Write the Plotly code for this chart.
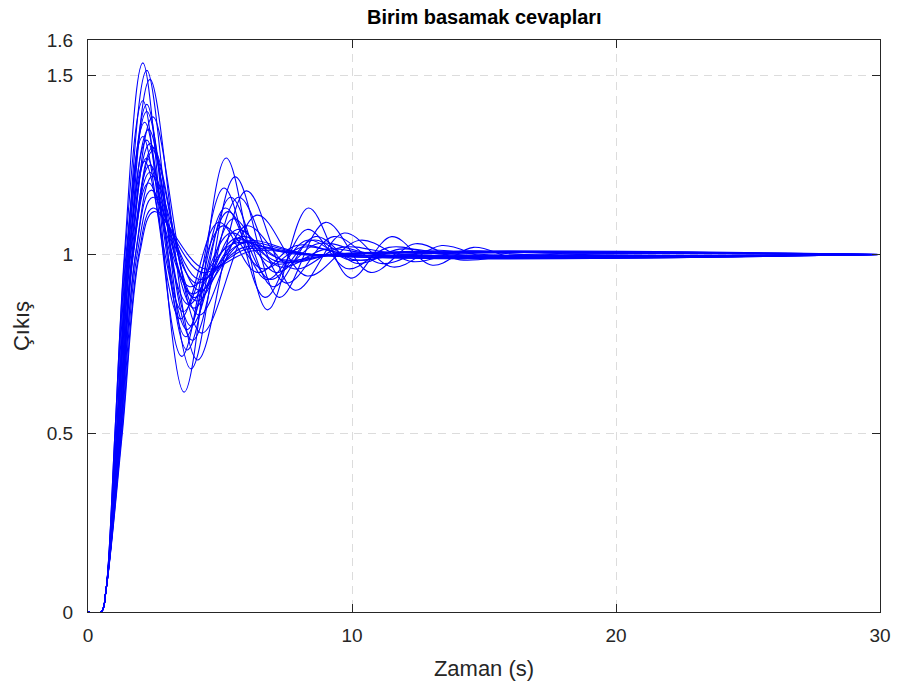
import plotly.graph_objects as go

# ---- Data ----
X_TICKS = [0, 10, 20, 30]
Y_TICKS = [0, 0.5, 1, 1.5, 1.6]
Y_TICK_TEXT = ["0", "0.5", "1", "1.5", "1.6"]

# common dead time and foot of every response
DELAY_T = 0.5
FOOT_T = 0.68
FOOT_Y = 0.06

# time where each response crosses 0.5 and 1.0
T_HALF = [1.02, 1.10, 1.16, 1.02, 1.10, 1.10, 1.22, 1.07, 1.13, 1.04, 1.10, 1.16,
          1.22, 1.22, 1.12, 1.08, 1.17, 1.18, 1.24, 1.16, 1.22, 1.26, 1.28, 1.30]
T_ONE = [1.38, 1.48, 1.58, 1.40, 1.50, 1.52, 1.66, 1.46, 1.56, 1.44, 1.54, 1.62,
         1.70, 1.72, 1.60, 1.56, 1.68, 1.70, 1.80, 1.70, 1.80, 1.86, 1.92, 1.95]

# successive peaks / troughs (time, value) of each response
EXT_T = [
    [2.08, 3.64, 5.23, 6.80, 8.35, 9.95, 11.5, 13.05, 14.6, 16.2],
    [2.23, 3.90, 5.57, 7.25, 9.00, 10.7, 12.4, 14.1],
    [2.35, 4.15, 6.00, 7.85, 9.70, 11.55, 13.4, 15.2],
    [2.08, 3.55, 5.15, 6.70, 8.30, 9.85, 11.4],
    [2.23, 3.75, 5.40, 7.00, 8.60, 10.2, 11.8],
    [2.23, 3.95, 5.70, 7.50, 9.30, 11.1, 12.9],
    [2.46, 4.30, 6.40, 8.30, 10.3, 12.3, 14.2],
    [2.15, 3.70, 5.20, 6.75, 8.30, 9.90],
    [2.30, 3.90, 5.50, 7.10, 8.70],
    [2.08, 3.50, 4.95, 6.40, 7.90],
    [2.23, 3.75, 5.30, 6.90, 8.50, 10.1],
    [2.35, 4.00, 5.65, 7.30, 9.00],
    [2.46, 4.20, 6.00, 7.80, 9.60],
    [2.46, 4.10, 5.80, 7.50],
    [2.23, 3.80, 5.40, 7.00],
    [2.15, 3.60, 5.10, 6.60, 8.10],
    [2.35, 4.00, 5.70, 7.40],
    [2.35, 3.95, 5.60, 7.20],
    [2.46, 4.20, 5.90],
    [2.30, 3.85, 5.50],
    [2.40, 4.10, 5.80],
    [2.46, 4.20, 5.90],
    [2.46, 4.30, 6.00],
    [2.50, 4.40, 6.20],
]
EXT_Y = [
    [1.536, 0.615, 1.27, 0.845, 1.13, 0.934, 1.05, 0.97, 1.02, 0.99],
    [1.515, 0.68, 1.217, 0.88, 1.09, 0.95, 1.03, 0.985],
    [1.49, 0.705, 1.178, 0.90, 1.06, 0.965, 1.025, 0.99],
    [1.43, 0.715, 1.186, 0.88, 1.07, 0.96, 1.02],
    [1.42, 0.733, 1.16, 0.91, 1.05, 0.975, 1.015],
    [1.40, 0.76, 1.16, 0.92, 1.05, 0.975, 1.012],
    [1.385, 0.78, 1.11, 0.94, 1.04, 0.98, 1.01],
    [1.37, 0.77, 1.13, 0.93, 1.04, 0.985],
    [1.35, 0.80, 1.10, 0.95, 1.03],
    [1.33, 0.82, 1.09, 0.95, 1.025],
    [1.32, 0.79, 1.12, 0.93, 1.04, 0.985],
    [1.31, 0.85, 1.07, 0.965, 1.015],
    [1.30, 0.83, 1.08, 0.96, 1.02],
    [1.29, 0.87, 1.05, 0.98],
    [1.27, 0.86, 1.06, 0.975],
    [1.26, 0.84, 1.08, 0.96, 1.02],
    [1.25, 0.88, 1.04, 0.985],
    [1.23, 0.89, 1.045, 0.98],
    [1.22, 0.90, 1.035],
    [1.20, 0.91, 1.03],
    [1.18, 0.92, 1.03],
    [1.16, 0.93, 1.02],
    [1.13, 0.95, 1.015],
    [1.12, 0.96, 1.01],
]
# time after which each response sits on 1
SETTLE_T = [18.5, 16.5, 17.5, 13.5, 14.0, 15.0, 16.5, 12.0, 11.0, 10.0, 12.0, 11.0,
            12.0, 9.5, 9.0, 10.0, 9.5, 9.5, 8.5, 8.0, 8.5, 8.5, 8.5, 8.5]
T_END = 30
FINAL = 1.0

FONT = "Liberation Sans, Arial, sans-serif"

# ---- Figure ----
fig = go.Figure()
for i in range(len(EXT_T)):
    tt = [0, DELAY_T, FOOT_T, T_HALF[i], T_ONE[i]] + EXT_T[i] + [SETTLE_T[i], T_END]
    yy = [0, 0, FOOT_Y, 0.5, 1.0] + EXT_Y[i] + [FINAL, FINAL]
    fig.add_trace(go.Scatter(
        x=tt, y=yy, mode="lines",
        line=dict(color="#0000FF", width=1.1, shape="spline", smoothing=1.0),
        showlegend=False, hoverinfo="skip", cliponaxis=True))

axis_common = dict(
    showline=True, linecolor="#262626", linewidth=1, mirror="ticks",
    ticks="inside", ticklen=8, tickwidth=1, tickcolor="#262626",
    showgrid=True, gridcolor="#dcdcdc", griddash="8px,6px", gridwidth=1,
    zeroline=False, automargin=False,
    tickfont=dict(family=FONT, size=19, color="#262626"),
)

fig.update_layout(
    width=897, height=689,
    margin=dict(l=88, r=17, t=40, b=77, autoexpand=False),
    plot_bgcolor="white", paper_bgcolor="white",
    title=dict(text="<b>Birim basamak cevapları</b>", x=0.54, xanchor="center",
               y=0.975, yanchor="middle",
               font=dict(family=FONT, size=20, color="black")),
    xaxis=dict(range=[0, 30], tickvals=X_TICKS, ticklabelstandoff=6,
               title=dict(text="Zaman (s)", standoff=15,
                          font=dict(family=FONT, size=22, color="#262626")),
               **axis_common),
    yaxis=dict(range=[0, 1.6], tickvals=Y_TICKS, ticktext=Y_TICK_TEXT, ticklabelstandoff=10,
               title=dict(text="Çıkış", standoff=11,
                          font=dict(family=FONT, size=22, color="#262626")),
               **axis_common),
)

fig.write_html("out.html")
